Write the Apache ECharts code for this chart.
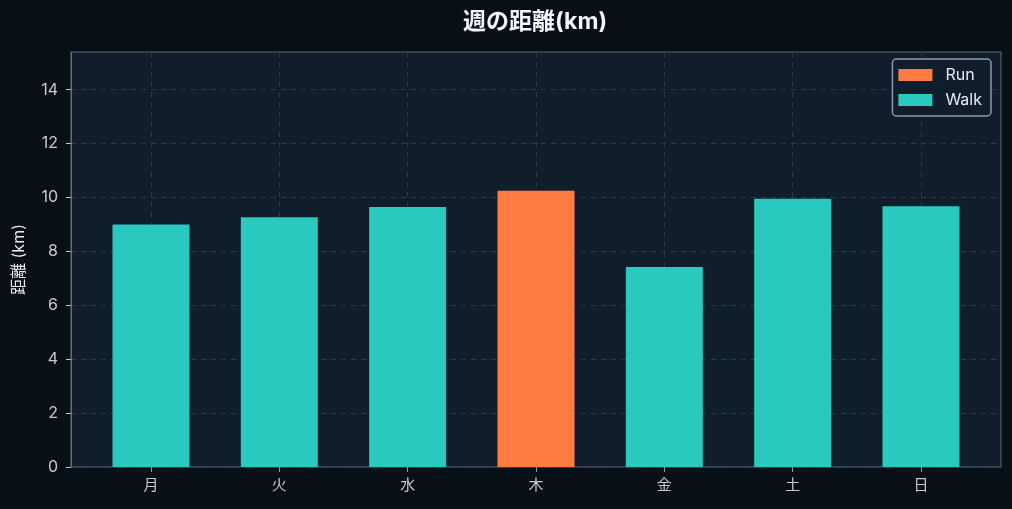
<!DOCTYPE html>
<html>
<head>
<meta charset="utf-8">
<script src="https://cdn.jsdelivr.net/npm/echarts@6/dist/echarts.min.js"></script>
<style>
  html, body { margin: 0; padding: 0; background: #070f17; }
  #chart { width: 1012px; height: 509px; }
</style>
</head>
<body>
<div id="chart"></div>
<script>
// 週の距離データ
var days = ['月', '火', '水', '木', '金', '土', '日'];
var runKm = ['-', '-', '-', 10.25, '-', '-', '-'];
var walkKm = [9.0, 9.27, 9.65, '-', 7.42, 9.95, 9.68];
var yTicks = [0, 2, 4, 6, 8, 10, 12, 14];

var FONT = 'Inter, "Noto Sans CJK JP", sans-serif';

function initChart() {
  var chart = echarts.init(document.getElementById('chart'));
  var option = {
    backgroundColor: '#070f17',
    title: {
      text: '週の距離(km)',
      left: 458,
      top: 6,
      textStyle: { color: '#f2f5f7', fontSize: 23, fontWeight: 'bold', fontFamily: FONT }
    },
    legend: {
      orient: 'vertical',
      right: 21,
      top: 59,
      data: ['Run', 'Walk'],
      icon: 'rect',
      itemWidth: 34,
      itemHeight: 12,
      itemGap: 9,
      padding: [8, 9, 8, 6],
      backgroundColor: '#101d2a',
      borderColor: '#8a9bab',
      borderWidth: 1.5,
      borderRadius: 4,
      textStyle: { color: '#e6ebef', fontSize: 16, fontFamily: FONT, padding: [0, 0, 0, 8] }
    },
    grid: [
      // 背景と y 軸
      { left: 71, right: 11, top: 52, bottom: 42, show: true,
        backgroundColor: '#101d2a', borderColor: '#5f6f7d', borderWidth: 1 },
      // 棒 (中心に合わせる)
      { left: 151, right: 91, top: 52, bottom: 42 }
    ],
    xAxis: [
      { gridIndex: 0, type: 'category', data: days, show: false },
      {
        gridIndex: 1,
        type: 'category',
        data: days,
        boundaryGap: false,
        axisLine: { show: false },
        axisTick: { show: true, length: 5, lineStyle: { color: '#8a9bab' } },
        axisLabel: { color: '#c3ccd5', fontSize: 15, fontFamily: FONT, margin: 11 },
        splitLine: { show: true, lineStyle: { color: '#2a3a49', type: [5, 5] } }
      }
    ],
    yAxis: [
      {
        gridIndex: 0,
        type: 'value',
        min: 0,
        max: 15.4,
        name: '距離 (km)',
        nameLocation: 'middle',
        nameGap: 44,
        nameTextStyle: { color: '#e6ebef', fontSize: 16, fontFamily: FONT },
        axisLine: { show: true, lineStyle: { color: '#5f6f7d' } },
        axisTick: { show: true, length: 5, customValues: yTicks, lineStyle: { color: '#c3ccd5' } },
        axisLabel: { color: '#c3ccd5', fontSize: 16, fontFamily: FONT, margin: 13, customValues: yTicks },
        splitLine: { show: true, lineStyle: { color: '#2a3a49', type: [5, 5] } }
      },
      { gridIndex: 1, type: 'value', min: 0, max: 15.4, show: false, splitLine: { show: false } }
    ],
    series: [
      {
        name: 'Run', type: 'bar', xAxisIndex: 1, yAxisIndex: 1, stack: 'd',
        data: runKm, barWidth: 77, clip: false,
        itemStyle: { color: '#ff7b42' }
      },
      {
        name: 'Walk', type: 'bar', xAxisIndex: 1, yAxisIndex: 1, stack: 'd',
        data: walkKm, barWidth: 77, clip: false,
        itemStyle: { color: '#2ac9c0' }
      }
    ]
  };
  chart.setOption(option);
}

initChart();
</script>
</body>
</html>
